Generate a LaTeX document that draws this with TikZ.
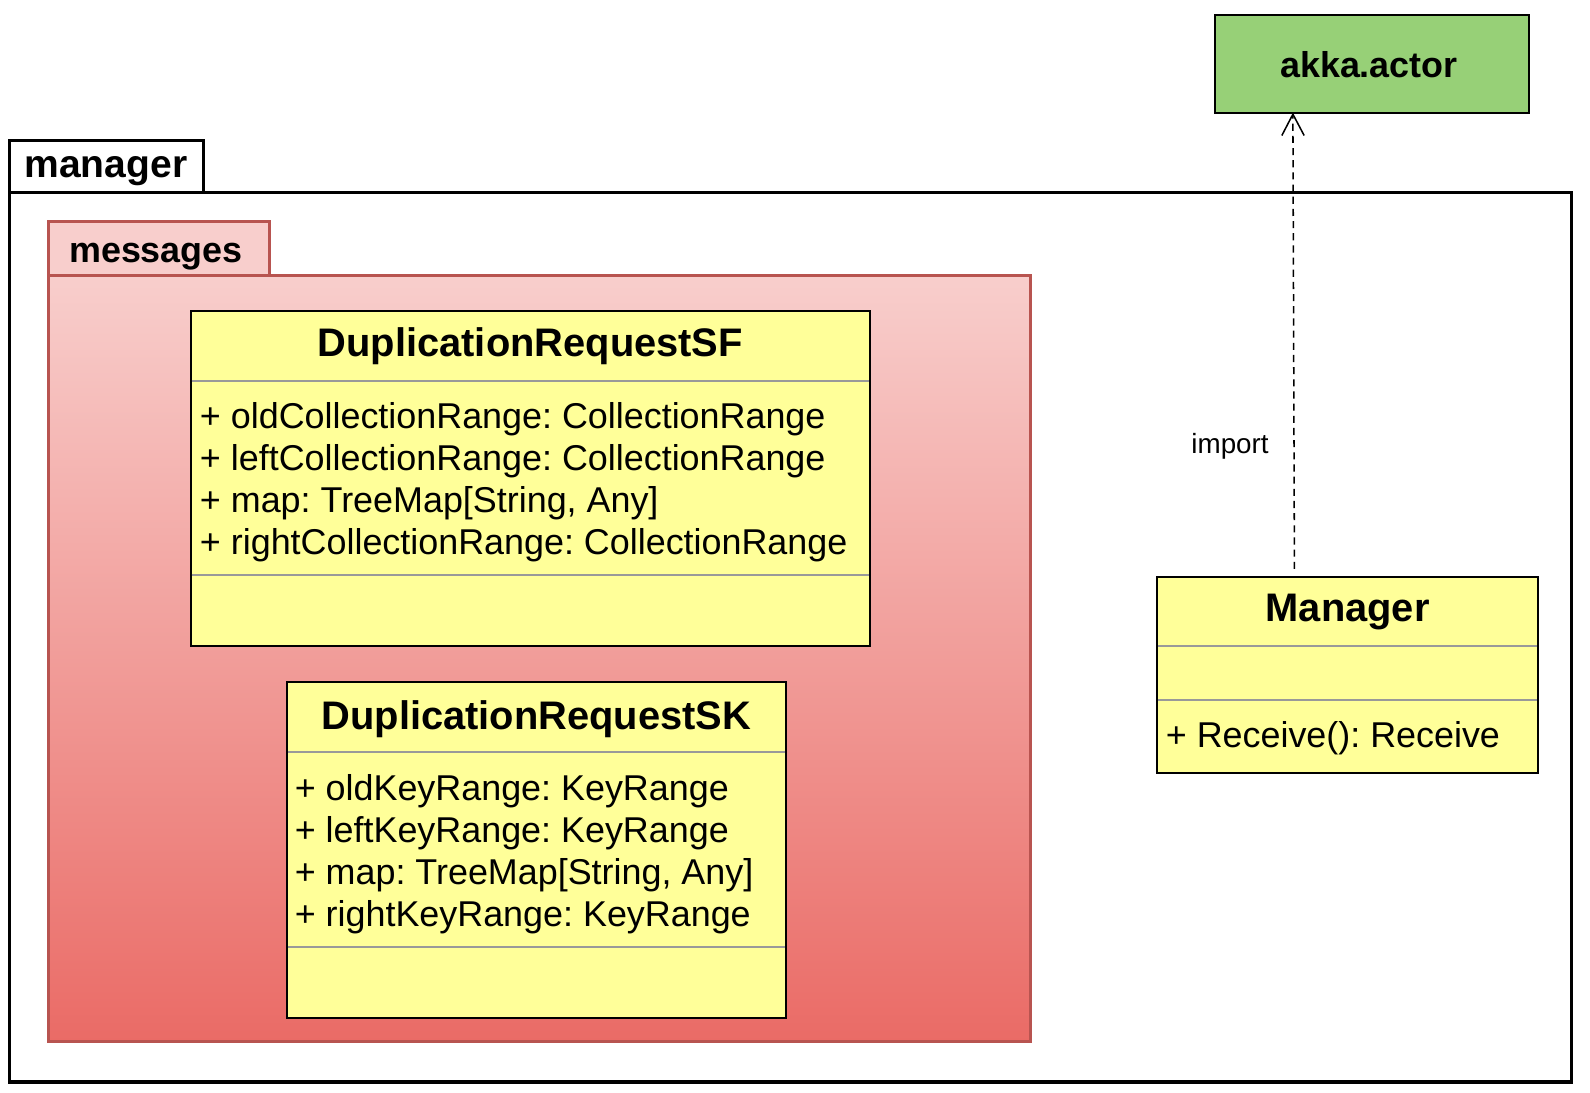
\documentclass[tikz,border=0pt]{standalone}
\usepackage{fontspec}
\setmainfont{Liberation Sans}
\usetikzlibrary{arrows.meta}
\frenchspacing
\definecolor{clsfill}{HTML}{FFFF99}
\definecolor{akkafill}{HTML}{97D077}
\definecolor{msgtop}{HTML}{F8CECC}
\definecolor{msgbot}{HTML}{EA6B66}
\definecolor{msgline}{HTML}{B85450}
\definecolor{divline}{HTML}{999999}
\begin{document}
\begin{tikzpicture}[x=1pt,y=-1pt,
  box/.style={draw, inner sep=0pt, outer sep=0pt, anchor=north west},
  clsbox/.style={box, fill=clsfill, line width=2pt},
  divider/.style={draw=divline, line width=2pt, shorten <=1pt, shorten >=1pt},
  attr/.style={font=\fontsize{35.4}{42}\selectfont, anchor=base west, inner sep=0pt},
  ttl/.style={font=\fontsize{39.3}{47}\selectfont\bfseries, anchor=base, inner sep=0pt},
  smallttl/.style={font=\fontsize{35.4}{42}\selectfont\bfseries, anchor=base, inner sep=0pt},
  pkgttl/.style={font=\fontsize{38.5}{46}\selectfont\bfseries, anchor=base west, inner sep=0pt},
  lbl/.style={font=\fontsize{27.4}{32}\selectfont, anchor=base, inner sep=0pt},
  importarrow/.style={line width=1.5pt, dash pattern=on 7pt off 5pt, -{Straight Barb[length=21pt,width=22pt]}}
]
\useasboundingbox (0,0) rectangle (1568,1077);

% manager package
\node[box, fill=white, line width=3pt, minimum width=1541pt, minimum height=877pt] (mframe) at (9,190) {};
\node[box, fill=white, line width=3pt, minimum width=192pt, minimum height=51pt] (mtab) at (9,139) {};
\node[pkgttl] (mtabtext) at (24,175) {manager};

% messages package
\node[box, draw=msgline, line width=3pt, top color=msgtop, bottom color=msgbot, minimum width=968pt, minimum height=755pt] (msgframe) at (48,272) {};
\node[box, draw=msgline, fill=msgtop, line width=3pt, minimum width=218pt, minimum height=54pt] (msgtab) at (48,218) {};
\node[pkgttl, font=\fontsize{35.4}{42}\selectfont\bfseries] (msgtabtext) at (68,259) {messages};

% DuplicationRequestSF
\node[clsbox, minimum width=670pt, minimum height=330pt] (sf) at (188,307) {};
\draw[divider] ([yshift=-69pt]sf.north west) -- ([yshift=-69pt]sf.north east);
\draw[divider] ([yshift=-260pt]sf.north west) -- ([yshift=-260pt]sf.north east);
\node[ttl] (sft) at (523,352) {DuplicationRequestSF};
\node[attr] (sfa1) at (197,422.5) {+ oldCollectionRange: CollectionRange};
\node[attr] (sfa2) at (197,464.1) {+ leftCollectionRange: CollectionRange};
\node[attr] (sfa3) at (197,505.7) {+ map: TreeMap[String, Any]};
\node[attr] (sfa4) at (197,547.3) {+ rightCollectionRange: CollectionRange};

% DuplicationRequestSK
\node[clsbox, minimum width=492pt, minimum height=331pt] (sk) at (283,673) {};
\draw[divider] ([yshift=-69pt]sk.north west) -- ([yshift=-69pt]sk.north east);
\draw[divider] ([yshift=-261pt]sk.north west) -- ([yshift=-261pt]sk.north east);
\node[ttl] (skt) at (529,719) {DuplicationRequestSK};
\node[attr] (ska1) at (290.5,789.5) {+ oldKeyRange: KeyRange};
\node[attr] (ska2) at (290.5,830.8) {+ leftKeyRange: KeyRange};
\node[attr] (ska3) at (290.5,872.1) {+ map: TreeMap[String, Any]};
\node[attr] (ska4) at (290.5,913.4) {+ rightKeyRange: KeyRange};

% Manager
\node[clsbox, minimum width=376pt, minimum height=193pt] (mgr) at (1141,569) {};
\draw[divider] ([yshift=-68pt]mgr.north west) -- ([yshift=-68pt]mgr.north east);
\draw[divider] ([yshift=-121pt]mgr.north west) -- ([yshift=-121pt]mgr.north east);
\node[ttl] (mgrt) at (1329,613) {Manager};
\node[attr] (mgra1) at (1149.5,737.4) {+ Receive(): Receive};

% akka.actor
\node[box, fill=akkafill, line width=2pt, minimum width=310pt, minimum height=96pt] (akka) at (1198,15) {};
\node[smallttl] (akkat) at (1350,76.5) {akka.actor};

% import dependency
\draw[importarrow] ([xshift=135.5pt,yshift=8pt]mgr.north west) -- ([xshift=77pt]akka.south west);
\node[lbl] (imp) at (1213,447) {import};
\end{tikzpicture}
\end{document}
